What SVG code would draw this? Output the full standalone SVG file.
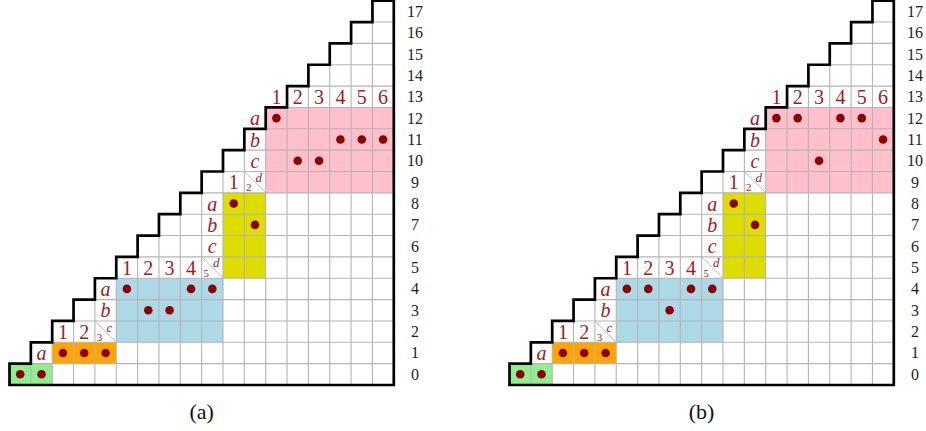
<svg xmlns="http://www.w3.org/2000/svg" xmlns:xlink="http://www.w3.org/1999/xlink" width="926" height="431" viewBox="0 0 926 431">
<style>
.grid{fill:none;stroke:#b4b4b4;stroke-width:1.1}
.diag{fill:none;stroke:#b4b4b4;stroke-width:0.9}
.outline{fill:none;stroke:#000;stroke-width:2.7;stroke-linejoin:miter}
.lbl{font-family:"Liberation Serif","DejaVu Serif",serif;font-size:20px;fill:#9e1b1b;text-anchor:middle}
.it{font-style:italic}
.sub{font-family:"Liberation Serif","DejaVu Serif",serif;font-size:11px;fill:#9e1b1b;text-anchor:middle}
.sup{font-family:"Liberation Serif","DejaVu Serif",serif;font-size:13px;font-style:italic;fill:#9e1b1b;text-anchor:middle}
.row{font-family:"Liberation Serif","DejaVu Serif",serif;font-size:16px;fill:#222;text-anchor:middle}
.cap{font-family:"Liberation Serif","DejaVu Serif",serif;font-size:22px;fill:#111;text-anchor:middle}
.dot{fill:#8b0000}
</style>
<defs>
<g id="base">
<rect x="9.5" y="363.65" width="42.7" height="21.35" fill="#90ee90"/>
<rect x="52.2" y="342.3" width="64.05" height="21.35" fill="#ffa500"/>
<rect x="116.25" y="278.25" width="106.75" height="64.05" fill="#add8e6"/>
<rect x="223" y="192.85" width="42.7" height="85.4" fill="#dddd00"/>
<rect x="265.7" y="107.45" width="128.1" height="85.4" fill="#ffc0cb"/>
<path class="grid" d="M30.85 363.65H393.8M52.2 342.3H393.8M73.55 320.95H393.8M94.9 299.6H393.8M116.25 278.25H393.8M137.6 256.9H393.8M158.95 235.55H393.8M180.3 214.2H393.8M201.65 192.85H393.8M223 171.5H393.8M244.35 150.15H393.8M265.7 128.8H393.8M287.05 107.45H393.8M308.4 86.1H393.8M329.75 64.75H393.8M351.1 43.4H393.8M372.45 22.05H393.8M30.85 385V363.65M52.2 385V342.3M73.55 385V320.95M94.9 385V299.6M116.25 385V278.25M137.6 385V256.9M158.95 385V235.55M180.3 385V214.2M201.65 385V192.85M223 385V171.5M244.35 385V150.15M265.7 385V128.8M287.05 385V107.45M308.4 385V86.1M329.75 385V64.75M351.1 385V43.4M372.45 385V22.05"/>
<path class="diag" d="M94.9 320.95L116.25 342.3M201.65 256.9L223 278.25M244.35 171.5L265.7 192.85"/>
<path class="outline" d="M9.5 385V363.65H30.85V342.3H52.2V320.95H73.55V299.6H94.9V278.25H116.25V256.9H137.6V235.55H158.95V214.2H180.3V192.85H201.65V171.5H223V150.15H244.35V128.8H265.7V107.45H287.05V86.1H308.4V64.75H329.75V43.4H351.1V22.05H372.45V0.7H393.8V385Z"/>
</g>
</defs>

<g id="panel-a">
<use xlink:href="#base" href="#base"/>
<g id="labels-a">
<text class="lbl it" x="41.5" y="360.15">a</text>
<text class="lbl" x="62.9" y="338.8">1</text>
<text class="lbl" x="84.2" y="338.8">2</text>
<text class="sub" x="99.4" y="340.8">3</text>
<text class="sup" x="109.4" y="331.8">c</text>
<text class="lbl it" x="105.6" y="317.45">b</text>
<text class="lbl it" x="105.6" y="296.1">a</text>
<text class="lbl" x="126.9" y="274.75">1</text>
<text class="lbl" x="148.3" y="274.75">2</text>
<text class="lbl" x="169.6" y="274.75">3</text>
<text class="lbl" x="191" y="274.75">4</text>
<text class="sub" x="206.15" y="276.75">5</text>
<text class="sup" x="216.15" y="267.25">d</text>
<text class="lbl it" x="212.3" y="253.4">c</text>
<text class="lbl it" x="212.3" y="232.05">b</text>
<text class="lbl it" x="212.3" y="210.7">a</text>
<text class="lbl" x="233.7" y="189.35">1</text>
<text class="sub" x="248.85" y="191.35">2</text>
<text class="sup" x="258.85" y="181.85">d</text>
<text class="lbl it" x="255" y="168">c</text>
<text class="lbl it" x="255" y="146.65">b</text>
<text class="lbl it" x="255" y="125.3">a</text>
<text class="lbl" x="276.4" y="103.95">1</text>
<text class="lbl" x="297.7" y="103.95">2</text>
<text class="lbl" x="319.1" y="103.95">3</text>
<text class="lbl" x="340.4" y="103.95">4</text>
<text class="lbl" x="361.8" y="103.95">5</text>
<text class="lbl" x="383.1" y="103.95">6</text>
</g>
<g id="rows-a">
<text class="row" x="415" y="379.8">0</text>
<text class="row" x="415" y="358.45">1</text>
<text class="row" x="415" y="337.1">2</text>
<text class="row" x="415" y="315.75">3</text>
<text class="row" x="415" y="294.4">4</text>
<text class="row" x="415" y="273.05">5</text>
<text class="row" x="415" y="251.7">6</text>
<text class="row" x="415" y="230.35">7</text>
<text class="row" x="415" y="209">8</text>
<text class="row" x="415" y="187.65">9</text>
<text class="row" x="415" y="166.3">10</text>
<text class="row" x="415" y="144.95">11</text>
<text class="row" x="415" y="123.6">12</text>
<text class="row" x="415" y="102.25">13</text>
<text class="row" x="415" y="80.9">14</text>
<text class="row" x="415" y="59.55">15</text>
<text class="row" x="415" y="38.2">16</text>
<text class="row" x="415" y="16.85">17</text>
</g>
<g id="dots-a" class="dot">
<circle cx="20.2" cy="374.3" r="4.3"/>
<circle cx="41.5" cy="374.3" r="4.3"/>
<circle cx="62.9" cy="352.95" r="4.3"/>
<circle cx="84.2" cy="352.95" r="4.3"/>
<circle cx="105.6" cy="352.95" r="4.3"/>
<circle cx="126.9" cy="288.9" r="4.3"/>
<circle cx="191" cy="288.9" r="4.3"/>
<circle cx="212.3" cy="288.9" r="4.3"/>
<circle cx="148.3" cy="310.3" r="4.3"/>
<circle cx="169.6" cy="310.3" r="4.3"/>
<circle cx="233.7" cy="203.5" r="4.3"/>
<circle cx="255" cy="224.9" r="4.3"/>
<circle cx="276.4" cy="118.1" r="4.3"/>
<circle cx="340.4" cy="139.5" r="4.3"/>
<circle cx="361.8" cy="139.5" r="4.3"/>
<circle cx="383.1" cy="139.5" r="4.3"/>
<circle cx="297.7" cy="160.8" r="4.3"/>
<circle cx="319.1" cy="160.8" r="4.3"/>
</g>
<text class="cap" x="201.6" y="419">(a)</text>
</g>

<g id="panel-b" transform="translate(500,0)">
<use xlink:href="#base" href="#base"/>
<g id="labels-b">
<text class="lbl it" x="41.5" y="360.15">a</text>
<text class="lbl" x="62.9" y="338.8">1</text>
<text class="lbl" x="84.2" y="338.8">2</text>
<text class="sub" x="99.4" y="340.8">3</text>
<text class="sup" x="109.4" y="331.8">c</text>
<text class="lbl it" x="105.6" y="317.45">b</text>
<text class="lbl it" x="105.6" y="296.1">a</text>
<text class="lbl" x="126.9" y="274.75">1</text>
<text class="lbl" x="148.3" y="274.75">2</text>
<text class="lbl" x="169.6" y="274.75">3</text>
<text class="lbl" x="191" y="274.75">4</text>
<text class="sub" x="206.15" y="276.75">5</text>
<text class="sup" x="216.15" y="267.25">d</text>
<text class="lbl it" x="212.3" y="253.4">c</text>
<text class="lbl it" x="212.3" y="232.05">b</text>
<text class="lbl it" x="212.3" y="210.7">a</text>
<text class="lbl" x="233.7" y="189.35">1</text>
<text class="sub" x="248.85" y="191.35">2</text>
<text class="sup" x="258.85" y="181.85">d</text>
<text class="lbl it" x="255" y="168">c</text>
<text class="lbl it" x="255" y="146.65">b</text>
<text class="lbl it" x="255" y="125.3">a</text>
<text class="lbl" x="276.4" y="103.95">1</text>
<text class="lbl" x="297.7" y="103.95">2</text>
<text class="lbl" x="319.1" y="103.95">3</text>
<text class="lbl" x="340.4" y="103.95">4</text>
<text class="lbl" x="361.8" y="103.95">5</text>
<text class="lbl" x="383.1" y="103.95">6</text>
</g>
<g id="rows-b">
<text class="row" x="415" y="379.8">0</text>
<text class="row" x="415" y="358.45">1</text>
<text class="row" x="415" y="337.1">2</text>
<text class="row" x="415" y="315.75">3</text>
<text class="row" x="415" y="294.4">4</text>
<text class="row" x="415" y="273.05">5</text>
<text class="row" x="415" y="251.7">6</text>
<text class="row" x="415" y="230.35">7</text>
<text class="row" x="415" y="209">8</text>
<text class="row" x="415" y="187.65">9</text>
<text class="row" x="415" y="166.3">10</text>
<text class="row" x="415" y="144.95">11</text>
<text class="row" x="415" y="123.6">12</text>
<text class="row" x="415" y="102.25">13</text>
<text class="row" x="415" y="80.9">14</text>
<text class="row" x="415" y="59.55">15</text>
<text class="row" x="415" y="38.2">16</text>
<text class="row" x="415" y="16.85">17</text>
</g>
<g id="dots-b" class="dot">
<circle cx="20.2" cy="374.3" r="4.3"/>
<circle cx="41.5" cy="374.3" r="4.3"/>
<circle cx="62.9" cy="352.95" r="4.3"/>
<circle cx="84.2" cy="352.95" r="4.3"/>
<circle cx="105.6" cy="352.95" r="4.3"/>
<circle cx="126.9" cy="288.9" r="4.3"/>
<circle cx="148.3" cy="288.9" r="4.3"/>
<circle cx="191" cy="288.9" r="4.3"/>
<circle cx="212.3" cy="288.9" r="4.3"/>
<circle cx="169.6" cy="310.3" r="4.3"/>
<circle cx="233.7" cy="203.5" r="4.3"/>
<circle cx="255" cy="224.9" r="4.3"/>
<circle cx="276.4" cy="118.1" r="4.3"/>
<circle cx="297.7" cy="118.1" r="4.3"/>
<circle cx="340.4" cy="118.1" r="4.3"/>
<circle cx="361.8" cy="118.1" r="4.3"/>
<circle cx="383.1" cy="139.5" r="4.3"/>
<circle cx="319.1" cy="160.8" r="4.3"/>
</g>
<text class="cap" x="201.6" y="419">(b)</text>
</g>
</svg>
